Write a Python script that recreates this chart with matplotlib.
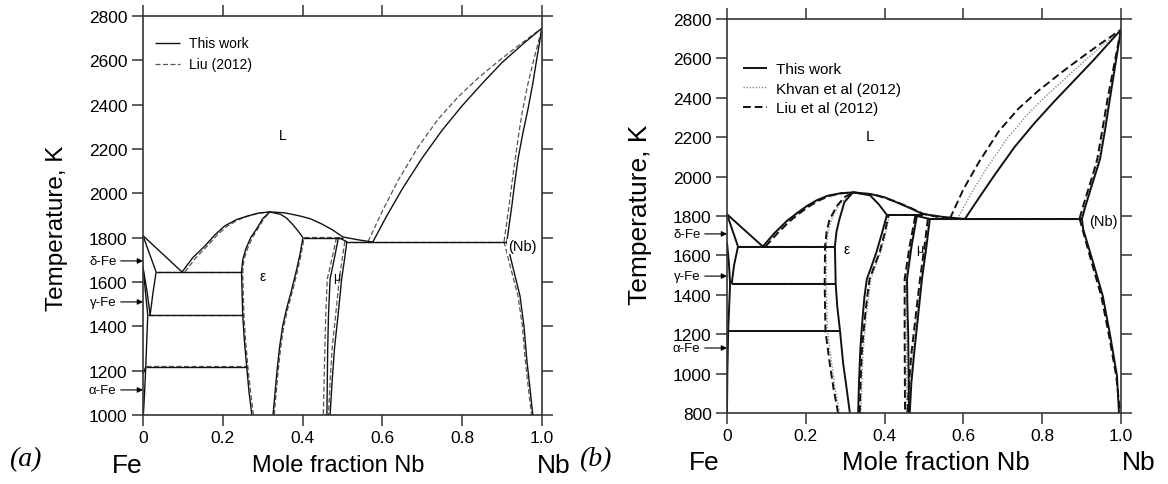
import matplotlib
matplotlib.use('Agg')
import matplotlib.pyplot as plt

plt.rcParams['font.family'] = ['Liberation Sans', 'DejaVu Sans']

# ---------------- panel (a): this work ----------------
A_LIQ_FE = [(0.0, 1809), (0.098, 1645)]
A_SOL_DELTA = [(0.0, 1809), (0.033, 1645)]
A_DELTA_SOLVUS = [(0.033, 1645), (0.025, 1550), (0.018, 1451)]
A_GAMMA_OUT = [(0.0, 1667), (0.010, 1560), (0.018, 1451)]
A_GAMMA_IN = [(0.0, 1667), (0.006, 1560), (0.012, 1451), (0.007, 1217)]
A_ALPHA = [(0.0, 1185), (0.007, 1217), (0.004, 1100), (0.001, 1000)]
A_TIE_1645 = [(0.033, 1645), (0.247, 1645)]
A_TIE_1451 = [(0.012, 1451), (0.250, 1451)]
A_TIE_1217 = [(0.007, 1217), (0.260, 1217)]
A_LIQ_EPS_L = [(0.098, 1645), (0.125, 1710), (0.155, 1762), (0.180, 1812), (0.205, 1853),
               (0.235, 1882), (0.263, 1898), (0.290, 1911), (0.318, 1916)]
A_EPS_L = [(0.273, 1000), (0.266, 1100), (0.260, 1217), (0.254, 1340), (0.250, 1451),
           (0.247, 1645), (0.250, 1700), (0.258, 1750), (0.270, 1800), (0.285, 1840),
           (0.300, 1885), (0.318, 1916)]
A_LIQ_EPS_R = [(0.318, 1916), (0.355, 1912), (0.393, 1898), (0.420, 1885), (0.450, 1860),
               (0.475, 1835), (0.501, 1803), (0.540, 1790), (0.576, 1780)]
A_EPS_R_HIGH = [(0.318, 1916), (0.345, 1905), (0.360, 1888), (0.375, 1860), (0.388, 1832),
                (0.401, 1800)]
A_EPS_R_LOW = [(0.401, 1800), (0.393, 1720), (0.383, 1640), (0.372, 1560), (0.360, 1480),
               (0.350, 1400), (0.342, 1300), (0.336, 1200), (0.331, 1100), (0.326, 1000)]
A_PERI_1800 = [(0.401, 1800), (0.501, 1800)]
A_MU_L = [(0.490, 1800), (0.479, 1700), (0.469, 1614), (0.465, 1450), (0.463, 1300),
          (0.461, 1000)]
A_MU_R = [(0.490, 1800), (0.511, 1782), (0.505, 1700), (0.498, 1614), (0.489, 1450),
          (0.480, 1300), (0.474, 1150), (0.469, 1000)]
A_EUT_1780 = [(0.511, 1780), (0.912, 1780)]
A_LIQ_NB = [(0.576, 1780), (0.610, 1895), (0.650, 2020), (0.700, 2160), (0.750, 2285),
            (0.800, 2395), (0.850, 2495), (0.900, 2590), (0.950, 2670), (1.0, 2745)]
A_SOL_NB = [(0.912, 1780), (0.918, 1860), (0.925, 1950), (0.932, 2050), (0.940, 2155),
            (0.952, 2270), (0.965, 2380), (0.977, 2495), (0.987, 2606), (1.0, 2745)]
A_NB_SOLVUS = [(0.912, 1780), (0.928, 1660), (0.945, 1537), (0.955, 1400), (0.962, 1250),
               (0.970, 1120), (0.977, 1000)]

# ---------------- panel (a): Liu (2012) ----------------
A_LIU_TIE_1645 = [(0.035, 1647), (0.250, 1647)]
A_LIU_TIE_1451 = [(0.014, 1453), (0.252, 1453)]
A_LIU_TIE_1217 = [(0.008, 1219), (0.262, 1219)]
A_LIU_LIQ_EPS_L = [(0.105, 1645), (0.132, 1708), (0.160, 1760), (0.185, 1810),
                   (0.210, 1850), (0.238, 1880), (0.265, 1898), (0.292, 1911), (0.318, 1916)]
A_LIU_EPS_L = [(0.277, 1000), (0.270, 1100), (0.263, 1217), (0.257, 1340), (0.253, 1451),
               (0.250, 1645), (0.253, 1700), (0.262, 1750), (0.274, 1800), (0.288, 1840),
               (0.303, 1885), (0.318, 1916)]
A_LIU_EPS_R = [(0.329, 1000), (0.334, 1100), (0.339, 1200), (0.345, 1300), (0.353, 1400),
               (0.363, 1480), (0.375, 1560), (0.386, 1640), (0.396, 1720), (0.404, 1802)]
A_LIU_PERI = [(0.404, 1802), (0.498, 1802)]
A_LIU_MU_L = [(0.485, 1800), (0.473, 1700), (0.462, 1614), (0.458, 1450), (0.456, 1300),
              (0.452, 1000)]
A_LIU_MU_R = [(0.506, 1784), (0.499, 1700), (0.492, 1614), (0.483, 1450), (0.474, 1300),
              (0.469, 1150), (0.465, 1000)]
A_LIU_EUT = [(0.506, 1782), (0.905, 1782)]
A_LIU_LIQ_NB = [(0.564, 1782), (0.600, 1920), (0.640, 2060), (0.690, 2210), (0.740, 2335),
                (0.790, 2435), (0.840, 2520), (0.890, 2595), (0.945, 2672), (1.0, 2745)]
A_LIU_SOL_NB = [(0.905, 1782), (0.911, 1860), (0.918, 1950), (0.925, 2050), (0.933, 2155),
                (0.942, 2270), (0.952, 2380), (0.965, 2495), (0.980, 2606), (1.0, 2745)]
A_LIU_NB_SOLVUS = [(0.905, 1782), (0.922, 1660), (0.940, 1537), (0.951, 1400),
                   (0.958, 1250), (0.966, 1120), (0.974, 1000)]

# ---------------- panel (b): this work ----------------
B_LIQ_FE = [(0.0, 1809), (0.091, 1645)]
B_SOL_DELTA = [(0.0, 1809), (0.028, 1645)]
B_DELTA_SOLVUS = [(0.028, 1645), (0.018, 1550), (0.012, 1455)]
B_GAMMA = [(0.0, 1667), (0.005, 1560), (0.008, 1455), (0.003, 1216)]
B_ALPHA = [(0.003, 1216), (0.001, 1000), (0.0, 800)]
B_TIE_1645 = [(0.028, 1645), (0.274, 1645)]
B_TIE_1455 = [(0.012, 1455), (0.276, 1455)]
B_TIE_1216 = [(0.003, 1216), (0.287, 1216)]
B_LIQ_EPS_L = [(0.091, 1645), (0.120, 1712), (0.152, 1775), (0.178, 1815), (0.203, 1851),
               (0.228, 1880), (0.254, 1902), (0.287, 1915), (0.320, 1920)]
B_EPS_L = [(0.312, 800), (0.302, 950), (0.295, 1050), (0.287, 1216), (0.280, 1340),
           (0.276, 1455), (0.274, 1645), (0.278, 1720), (0.285, 1780), (0.298, 1870),
           (0.320, 1920)]
B_LIQ_EPS_R = [(0.320, 1920), (0.363, 1912), (0.400, 1895), (0.430, 1870), (0.465, 1840),
               (0.497, 1810), (0.550, 1795), (0.604, 1785)]
B_EPS_R = [(0.320, 1920), (0.363, 1905), (0.385, 1860), (0.406, 1805), (0.393, 1710),
           (0.380, 1620), (0.367, 1545), (0.355, 1480), (0.349, 1390), (0.345, 1300),
           (0.341, 1200), (0.338, 1100), (0.335, 950), (0.333, 800)]
B_PERI_1805 = [(0.406, 1805), (0.497, 1805)]
B_MU_L = [(0.482, 1800), (0.468, 1640), (0.457, 1480), (0.458, 1340), (0.460, 1200),
          (0.462, 800)]
B_MU_R = [(0.482, 1800), (0.515, 1785), (0.506, 1640), (0.495, 1480), (0.485, 1290),
          (0.475, 1100), (0.468, 950), (0.464, 800)]
B_EUT_1785 = [(0.515, 1785), (0.901, 1785)]
B_LIQ_NB = [(0.604, 1785), (0.640, 1893), (0.680, 2010), (0.730, 2150), (0.780, 2270),
            (0.830, 2380), (0.880, 2485), (0.930, 2590), (0.965, 2668), (1.0, 2745)]
B_SOL_NB = [(0.901, 1785), (0.910, 1850), (0.921, 1922), (0.934, 2005), (0.947, 2089),
            (0.960, 2240), (0.972, 2394), (0.986, 2570), (1.0, 2745)]
B_NB_SOLVUS = [(0.901, 1785), (0.904, 1734), (0.930, 1560), (0.954, 1394), (0.973, 1190),
               (0.990, 988), (0.995, 800)]

# ---------------- panel (b): Liu et al (2012) ----------------
B_LIU_TIE_1645 = [(0.028, 1645), (0.249, 1645)]
B_LIU_TIE_1455 = [(0.012, 1455), (0.248, 1455)]
B_LIU_LIQ_EPS_L = [(0.098, 1645), (0.128, 1712), (0.160, 1775), (0.185, 1815),
                   (0.210, 1851), (0.235, 1880), (0.260, 1902), (0.290, 1915), (0.320, 1920)]
B_LIU_EPS_L = [(0.282, 800), (0.270, 930), (0.261, 1050), (0.250, 1216), (0.248, 1455),
               (0.249, 1645), (0.253, 1720), (0.260, 1780), (0.279, 1851), (0.298, 1895),
               (0.320, 1920)]
B_LIU_EPS_R = [(0.337, 800), (0.339, 950), (0.342, 1100), (0.346, 1200), (0.351, 1300),
               (0.356, 1390), (0.362, 1480), (0.374, 1545), (0.388, 1620), (0.400, 1710),
               (0.410, 1805)]
B_LIU_PERI = [(0.410, 1807), (0.497, 1807)]
B_LIU_MU_L = [(0.478, 1800), (0.463, 1640), (0.451, 1480), (0.451, 1200), (0.452, 800)]
B_LIU_MU_R = [(0.510, 1787), (0.501, 1640), (0.490, 1480), (0.479, 1290), (0.468, 1100),
              (0.462, 950), (0.458, 800)]
B_LIU_LIQ_EPS_R = [(0.320, 1920), (0.380, 1905), (0.430, 1872), (0.465, 1842),
                   (0.497, 1812), (0.530, 1797), (0.566, 1787)]
B_LIU_EUT = [(0.510, 1787), (0.895, 1787)]
B_LIU_LIQ_NB = [(0.566, 1787), (0.600, 1935), (0.640, 2075), (0.690, 2230), (0.740, 2345),
                (0.790, 2435), (0.850, 2530), (0.905, 2612), (0.952, 2680), (1.0, 2745)]
B_LIU_SOL_NB = [(0.895, 1787), (0.904, 1850), (0.915, 1922), (0.928, 2005), (0.940, 2089),
                (0.953, 2240), (0.966, 2394), (0.983, 2570), (1.0, 2745)]
B_LIU_NB_SOLVUS = [(0.895, 1787), (0.922, 1590), (0.950, 1394), (0.970, 1190),
                   (0.988, 988), (0.998, 800)]

# ---------------- panel (b): Khvan et al (2012) ----------------
B_KH_TIE_1645 = [(0.030, 1648), (0.252, 1648)]
B_KH_TIE_1455 = [(0.013, 1458), (0.252, 1458)]
B_KH_LIQ_EPS_L = [(0.095, 1645), (0.124, 1712), (0.156, 1775), (0.181, 1815),
                  (0.206, 1851), (0.231, 1880), (0.257, 1902), (0.288, 1915), (0.320, 1920)]
B_KH_EPS_L = [(0.286, 800), (0.274, 930), (0.266, 1050), (0.255, 1216), (0.252, 1455),
              (0.252, 1645), (0.257, 1720), (0.265, 1780), (0.285, 1860), (0.320, 1920)]
B_KH_EPS_R = [(0.340, 800), (0.345, 1100), (0.354, 1300), (0.365, 1480), (0.377, 1545),
              (0.391, 1620), (0.403, 1710), (0.412, 1805)]
B_KH_MU_L = [(0.480, 1800), (0.466, 1640), (0.454, 1480), (0.455, 1200), (0.456, 800)]
B_KH_MU_R = [(0.512, 1786), (0.503, 1640), (0.493, 1480), (0.482, 1290), (0.471, 1100),
             (0.461, 800)]
B_KH_EUT = [(0.512, 1786), (0.898, 1786)]
B_KH_LIQ_NB = [(0.585, 1786), (0.620, 1915), (0.660, 2045), (0.710, 2190), (0.760, 2310),
               (0.810, 2410), (0.865, 2510), (0.915, 2600), (0.958, 2675), (1.0, 2745)]
B_KH_SOL_NB = [(0.898, 1786), (0.918, 1922), (0.944, 2089), (0.969, 2394), (1.0, 2745)]

A_WORK = [A_LIQ_FE, A_SOL_DELTA, A_DELTA_SOLVUS, A_GAMMA_OUT, A_GAMMA_IN, A_ALPHA,
          A_TIE_1645, A_TIE_1451, A_TIE_1217, A_LIQ_EPS_L, A_EPS_L, A_LIQ_EPS_R,
          A_EPS_R_HIGH, A_EPS_R_LOW, A_PERI_1800, A_MU_L, A_MU_R, A_EUT_1780,
          A_LIQ_NB, A_SOL_NB, A_NB_SOLVUS]
A_LIU = [A_LIU_TIE_1645, A_LIU_TIE_1451, A_LIU_TIE_1217, A_LIU_LIQ_EPS_L, A_LIU_EPS_L,
         A_LIU_EPS_R, A_LIU_PERI, A_LIU_MU_L, A_LIU_MU_R, A_LIU_EUT, A_LIU_LIQ_NB,
         A_LIU_SOL_NB, A_LIU_NB_SOLVUS]
B_WORK = [B_LIQ_FE, B_SOL_DELTA, B_DELTA_SOLVUS, B_GAMMA, B_ALPHA, B_TIE_1645,
          B_TIE_1455, B_TIE_1216, B_LIQ_EPS_L, B_EPS_L, B_LIQ_EPS_R, B_EPS_R,
          B_PERI_1805, B_MU_L, B_MU_R, B_EUT_1785, B_LIQ_NB, B_SOL_NB, B_NB_SOLVUS]
B_LIU = [B_LIU_TIE_1645, B_LIU_TIE_1455, B_LIU_LIQ_EPS_L, B_LIU_EPS_L, B_LIU_EPS_R,
         B_LIU_PERI, B_LIU_MU_L, B_LIU_MU_R, B_LIU_LIQ_EPS_R, B_LIU_EUT, B_LIU_LIQ_NB,
         B_LIU_SOL_NB, B_LIU_NB_SOLVUS]
B_KH = [B_KH_TIE_1645, B_KH_TIE_1455, B_KH_LIQ_EPS_L, B_KH_EPS_L, B_KH_EPS_R, B_KH_MU_L,
        B_KH_MU_R, B_KH_EUT, B_KH_LIQ_NB, B_KH_SOL_NB]

X_TICKS = [0, 0.2, 0.4, 0.6, 0.8, 1.0]
X_TICK_LABELS = ['0', '0.2', '0.4', '0.6', '0.8', '1.0']
A_Y_TICKS = list(range(1000, 2801, 200))
B_Y_TICKS = list(range(800, 2801, 200))

# arrow markers for pure Fe allotropes (temperature the arrow points at)
A_FE_MARKS = [('δ-Fe', 1695), ('γ-Fe', 1510), ('α-Fe', 1113)]
B_FE_MARKS = [('δ-Fe', 1709), ('γ-Fe', 1495), ('α-Fe', 1130)]


def draw(ax, curves, label=None, **style):
    for i, c in enumerate(curves):
        xs, ts = zip(*c)
        ax.plot(xs, ts, label=label if i == 0 else None,
                solid_capstyle='butt', dash_capstyle='butt', solid_joinstyle='round',
                **style)


def style_axes(ax, yticks, fs_tick):
    ax.set_xlim(0, 1)
    ax.set_ylim(yticks[0], yticks[-1])
    ax.set_xticks(X_TICKS)
    ax.set_xticklabels(X_TICK_LABELS)
    ax.set_yticks(yticks)
    ax.tick_params(direction='out', top=True, right=True, length=8, width=1.1,
                   colors='#333333', labelcolor='black', labelsize=fs_tick, pad=3)
    for s in ax.spines.values():
        s.set_linewidth(1.2)
        s.set_color('#333333')


def fe_arrows(ax, marks):
    for name, t in marks:
        ax.annotate(name, xy=(0, t), xycoords='data', xytext=(-19, 0),
                    textcoords='offset points', ha='right', va='center', fontsize=9.5,
                    annotation_clip=False,
                    arrowprops=dict(arrowstyle='-|>', color='black', lw=0.8,
                                    shrinkA=1, shrinkB=0, mutation_scale=8))


fig = plt.figure(figsize=(11.68, 4.85), dpi=100)
ax_a = fig.add_axes([0.1224, 0.1423, 0.3416, 0.8227])
ax_b = fig.add_axes([0.6224, 0.1464, 0.3373, 0.8124])

# (a)
draw(ax_a, A_LIU, 'Liu (2012)', color='#555555', lw=0.9, ls=(0, (4, 2)))
draw(ax_a, A_WORK, 'This work', color='#111111', lw=1.0)
style_axes(ax_a, A_Y_TICKS, 12.5)
h, l = ax_a.get_legend_handles_labels()
ax_a.legend(h[::-1], l[::-1], loc='upper left', bbox_to_anchor=(0.0, 0.98), frameon=False,
            fontsize=10, handlelength=1.8, handletextpad=0.6, labelspacing=0.5)
ax_a.text(0.35, 2263, 'L', fontsize=10, ha='center', va='center')
ax_a.text(0.30, 1627, 'ε', fontsize=10, ha='center', va='center')
ax_a.text(0.486, 1622, 'μ', fontsize=9, ha='center', va='center')
ax_a.text(0.95, 1762, '(Nb)', fontsize=10.5, ha='center', va='center',
          bbox=dict(fc='white', ec='none', pad=0.3))
fe_arrows(ax_a, A_FE_MARKS)
ax_a.set_ylabel('Temperature, K', fontsize=17.5)
ax_a.yaxis.set_label_coords(-0.188, 0.471)

# (b)
draw(ax_b, B_KH, 'Khvan et al (2012)', color='#8a8a8a', lw=1.0, ls=(0, (1, 1.2)))
draw(ax_b, B_LIU, 'Liu et al (2012)', color='#111111', lw=1.4, ls=(0, (4, 2)))
draw(ax_b, B_WORK, 'This work', color='#111111', lw=1.4)
style_axes(ax_b, B_Y_TICKS, 12.5)
h, l = ax_b.get_legend_handles_labels()
ax_b.legend([h[2], h[0], h[1]], [l[2], l[0], l[1]], loc='upper left',
            bbox_to_anchor=(0.005, 0.925), frameon=False, fontsize=11, handlelength=1.6,
            handletextpad=0.6, labelspacing=0.35)
ax_b.text(0.363, 2206, 'L', fontsize=11, ha='center', va='center')
ax_b.text(0.305, 1632, 'ε', fontsize=10, ha='center', va='center')
ax_b.text(0.49, 1632, 'μ', fontsize=9, ha='center', va='center')
ax_b.text(0.955, 1775, '(Nb)', fontsize=10.5, ha='center', va='center',
          bbox=dict(fc='white', ec='none', pad=0.3))
fe_arrows(ax_b, B_FE_MARKS)
ax_b.set_ylabel('Temperature, K', fontsize=19)
ax_b.yaxis.set_label_coords(-0.19, 0.505)

# bottom captions
for ax, xfe, xmid, xnb, fs_mid in [(ax_a, -0.04, 0.49, 1.03, 17),
                                   (ax_b, -0.058, 0.53, 1.046, 18.5)]:
    ax.text(xfe, -0.125, 'Fe', transform=ax.transAxes, fontsize=19, ha='center',
            va='center')
    ax.text(xmid, -0.125, 'Mole fraction Nb', transform=ax.transAxes, fontsize=fs_mid,
            ha='center', va='center')
    ax.text(xnb, -0.125, 'Nb', transform=ax.transAxes, fontsize=19, ha='center',
            va='center')
fig.text(25 / 1168, 1 - 460 / 485, '(a)', fontsize=20, style='italic',
         family='Liberation Serif', ha='center', va='center')
fig.text(595 / 1168, 1 - 460 / 485, '(b)', fontsize=20, style='italic',
         family='Liberation Serif', ha='center', va='center')

fig.savefig('out.png', dpi=100)
